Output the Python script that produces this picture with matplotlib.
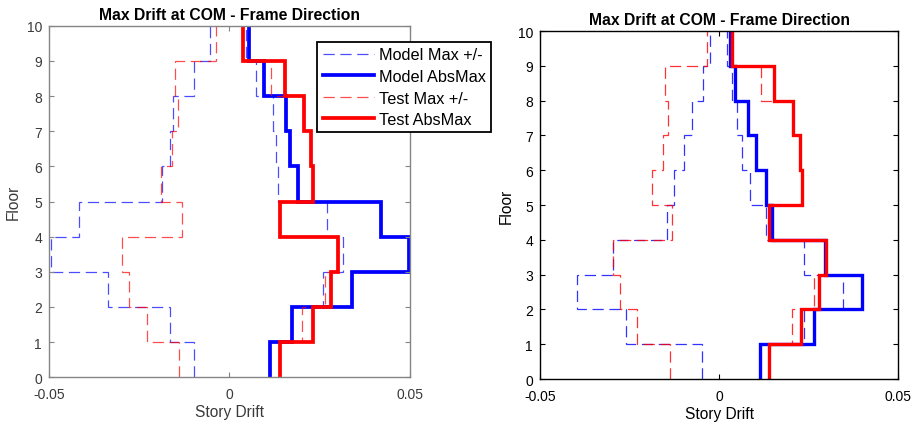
import matplotlib
matplotlib.use("Agg")
import matplotlib.pyplot as plt
import numpy as np

plt.rcParams["font.family"] = ["Liberation Sans", "DejaVu Sans"]

# Story drift envelopes per story (story 1 = floor 0-1 ... story 10 = floor 9-10)
floors = list(range(11))

# Left panel
left_model_neg = [-0.0099, -0.0166, -0.0337, -0.0495, -0.0417, -0.0188, -0.0166, -0.0157, -0.0099, -0.0053]
left_model_pos = [0.0111, 0.0174, 0.0259, 0.0315, 0.0270, 0.0134, 0.0128, 0.0120, 0.0074, 0.0046]
left_model_abs = [0.0111, 0.0174, 0.0340, 0.0497, 0.0419, 0.0190, 0.0169, 0.0156, 0.0097, 0.0053]
left_test_neg = [-0.0140, -0.0229, -0.0279, -0.0297, -0.0132, -0.0189, -0.0160, -0.0143, -0.0152, -0.0037]
left_test_pos = [0.0139, 0.0201, 0.0264, 0.0301, 0.0139, 0.0230, 0.0227, 0.0206, 0.0116, 0.0037]
left_test_abs = [0.0140, 0.0230, 0.0280, 0.0301, 0.0139, 0.0230, 0.0227, 0.0206, 0.0153, 0.0037]

# Right panel
right_model_neg = [-0.0048, -0.0261, -0.0396, -0.0295, -0.0146, -0.0127, -0.0098, -0.0076, -0.0044, -0.0025]
right_model_pos = [0.0115, 0.0237, 0.0345, 0.0237, 0.0130, 0.0085, 0.0063, 0.0051, 0.0035, 0.0021]
right_model_abs = [0.0115, 0.0265, 0.0399, 0.0295, 0.0147, 0.0131, 0.0102, 0.0080, 0.0045, 0.0029]
right_test_neg = [-0.0137, -0.0228, -0.0277, -0.0295, -0.0132, -0.0188, -0.0157, -0.0142, -0.0151, -0.0034]
right_test_pos = [0.0140, 0.0203, 0.0264, 0.0299, 0.0138, 0.0231, 0.0226, 0.0205, 0.0116, 0.0035]
right_test_abs = [0.0140, 0.0229, 0.0280, 0.0299, 0.0138, 0.0231, 0.0226, 0.0205, 0.0154, 0.0035]

x_ticks = [-0.05, 0, 0.05]
x_tick_labels = ["-0.05", "0", "0.05"]
y_ticks = list(range(11))

title_text = "Max Drift at COM - Frame Direction"
legend_labels = ["Model Max +/-", "Model AbsMax", "Test Max +/-", "Test AbsMax"]

BLUE = "#0000ff"
RED = "#ff0000"
DASH = (0, (9, 4.5))


def draw_panel(ax, model_neg, model_pos, model_abs, test_neg, test_pos, test_abs,
               frame_color, text_color, solid_lw, dash_alpha, ylabel_pad):
    kw = dict(edges=floors, orientation="horizontal", baseline=None)
    ax.stairs(model_neg, color=BLUE, lw=0.9, linestyle=DASH, alpha=dash_alpha,
              label=legend_labels[0], **kw)
    ax.stairs(model_pos, color=BLUE, lw=0.9, linestyle=DASH, alpha=dash_alpha,
              label="_nolegend_", **kw)
    ax.stairs(model_abs, color=BLUE, lw=solid_lw, label=legend_labels[1], **kw)
    ax.stairs(test_neg, color=RED, lw=0.9, linestyle=DASH, alpha=dash_alpha,
              label=legend_labels[2], **kw)
    ax.stairs(test_pos, color=RED, lw=0.9, linestyle=DASH, alpha=dash_alpha,
              label="_nolegend_", **kw)
    ax.stairs(test_abs, color=RED, lw=solid_lw, label=legend_labels[3], **kw)

    ax.set_xlim(-0.05, 0.05)
    ax.set_ylim(0, 10)
    ax.set_xticks(x_ticks)
    ax.set_xticklabels(x_tick_labels)
    ax.set_yticks(y_ticks)
    ax.tick_params(direction="in", top=True, right=True, length=3.5,
                   labelsize=10, colors=frame_color, labelcolor=text_color)
    ax.tick_params(axis="x", pad=7)
    ax.tick_params(axis="y", pad=5)
    for s in ax.spines.values():
        s.set_color(frame_color)
        s.set_linewidth(1.0)
    ax.set_title(title_text, fontsize=11.3, fontweight="bold", pad=5)
    ax.set_xlabel("Story Drift", fontsize=11.2, color=text_color, labelpad=2)
    ax.set_ylabel("Floor", fontsize=11.2, color=text_color, labelpad=ylabel_pad)


fig = plt.figure(figsize=(9.17, 4.27), dpi=100)
ax_left = fig.add_axes([0.0534, 0.114, 0.3937, 0.8235])
ax_right = fig.add_axes([0.5889, 0.110, 0.3907, 0.8148])

draw_panel(ax_left, left_model_neg, left_model_pos, left_model_abs,
           left_test_neg, left_test_pos, left_test_abs,
           frame_color="#858585", text_color="#3a3a3a", solid_lw=2.7, dash_alpha=0.7,
           ylabel_pad=4)
draw_panel(ax_right, right_model_neg, right_model_pos, right_model_abs,
           right_test_neg, right_test_pos, right_test_abs,
           frame_color="#000000", text_color="#000000", solid_lw=2.4, dash_alpha=0.8,
           ylabel_pad=3)

leg = ax_left.legend(loc="upper left", bbox_to_anchor=(317.3 / 917, 1 - 43.3 / 427),
                     bbox_transform=fig.transFigure, fontsize=11.7, frameon=True,
                     fancybox=False, framealpha=1, edgecolor="#000000",
                     handlelength=3.15, handletextpad=0.3, borderpad=0.32,
                     labelspacing=0.4, borderaxespad=0)
leg.get_frame().set_linewidth(1.3)
leg.set_zorder(10)

fig.savefig("out.png", dpi=100)
